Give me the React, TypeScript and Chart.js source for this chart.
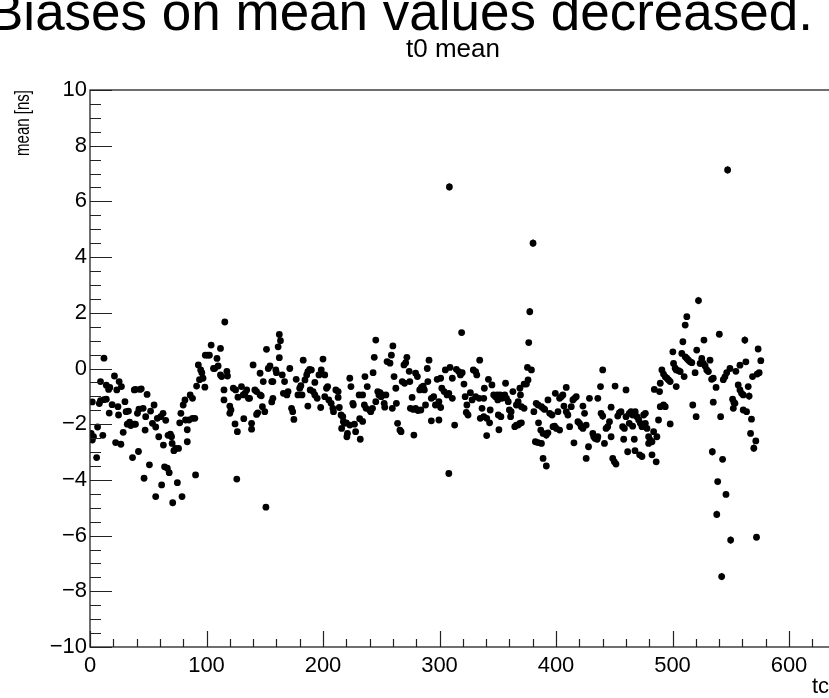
import { useEffect, useRef } from "react";
import { Chart, registerables } from "chart.js";

Chart.register(...registerables);

// ---- texts ----
const slideTitle = "Biases on mean values decreased.";
const chartTitle = "t0 mean";
const yAxisTitle = "mean [ns]";
const xAxisTitle = "tc";

// ---- axes ----
const xMin = 0;
const xMax = 640;
const yMin = -10;
const yMax = 10;
const xMajorTicks = [0, 100, 200, 300, 400, 500, 600];
const yMajorTicks = [-10, -8, -6, -4, -2, 0, 2, 4, 6, 8, 10];
const xMinorStep = 20;
const yMinorStep = 0.5;

// ---- data: [channel, mean (ns)] ----
const meanCh0to116: [number, number][] = [
  [1, -2.33], [2, -2.57], [3, -2.45], [5.7, -3.2], [6.5, -2.1], [2, -1.2], [8, -1.26], [9, -1.15], [12, -1.12], [14, -1.1],
  [9, -0.47], [12, 0.37], [11, -2.4], [14, -0.6], [16, -0.75], [17, -0.68], [16.5, -1.6], [19, -1.3], [21, -0.27], [22, -2.66],
  [23, -0.77], [24, -1.37], [24.5, -1.67], [25, -0.47], [26.5, -2.72], [27, -0.65], [28.5, -2.29], [30, -1.19], [31, -1.55], [33, -1.53],
  [32, -2.0], [34, -1.93], [35, -2.05], [38, -2.0], [39, -2.0], [36.5, -3.2], [38, -0.77], [39, -0.75], [40.7, -1.61], [41.6, -2.98],
  [42, -1.46], [43, -0.75], [44, -0.73], [45.6, -1.43], [46.4, -3.94], [47.3, -2.21], [47.8, -1.73], [49, -0.93], [51, -3.46], [52, -1.53],
  [53.6, -1.97], [55, -1.31], [56.4, -4.6], [56.4, -2.1], [57.8, -1.79], [59, -2.45], [60.7, -1.73], [61.5, -4.18], [62.7, -1.61], [63, -2.75],
  [64, -3.53], [65, -1.86], [66.4, -3.58], [67, -2.4], [69, -2.36], [70, -2.45], [68, -3.74], [70.5, -2.69], [71, -4.82], [72, -2.95],
  [73.5, -2.87], [75, -4.1], [76, -2.87], [77, -1.95], [78, -1.61], [79, -4.6], [80, -1.31], [81.5, -1.13], [82, -1.85], [83.5, -2.63],
  [83.5, -2.2], [85, -1.85], [86, -0.95], [88, -1.07], [88, -1.79], [90, -1.79], [90.6, -3.82], [91.5, -0.63], [93, 0.13], [94, -0.4],
  [95, -0.05], [96, -0.15], [97, -0.35], [98.6, -0.67], [99, 0.48], [101, 0.48], [102.5, 0.48], [104, 0.84], [106, 0], [107, 0],
  [109, 0.36], [110, 0.09], [112, 0.72], [112, -0.23], [113, -0.29], [115, -0.77], [115, -1.13], [115.7, 1.67],
];

const meanCh117to232: [number, number][] = [
  [117.5, -0.1], [118, -0.27], [120, -1.35], [121, -1.49], [120, -1.61], [123, -0.71], [125, -0.77], [124.5, -1.99], [126.5, -2.27], [126, -3.97],
  [127, -1.03], [130, -0.65], [131.5, -0.95], [133, -0.89], [134.5, -0.77], [136, -1.07], [137, -1.07], [132, -1.8], [138.7, -1.97], [138.7, -2.18],
  [140, 0.13], [141.5, -0.77], [143, -0.83], [146, -0.95], [147, -0.98], [143, -1.65], [144, -1.59], [146, -0.17], [148, -1.37], [148.7, -0.47],
  [150, -1.55], [151, -4.98], [151.5, 0.69], [153, 0], [154.5, 0.09], [156, -0.47], [157, -0.47], [156, -1.2], [157, -1.07], [159.5, -0.05],
  [160, -0.15], [161.5, 0.78], [162.5, 1.22], [163.5, 1.0], [162.5, 0.39], [165, -0.23], [167, -0.47], [166, -0.89], [169, -0.95], [170, -0.83],
  [171.5, 0], [173, -1.43], [174, -1.55], [175, -1.83], [177, -0.39], [178.5, -0.95], [180, -0.71], [181, -0.62], [182, -0.95], [183, 0.3],
  [184.5, -0.41], [186, -0.23], [187, -0.11], [188.5, -0.03], [190, -0.05], [187, -1.35], [189, -0.77], [191.5, -0.83], [193, -0.95], [193, -0.5],
  [195, -1.07], [196.5, -0.23], [198, -1.4], [198.5, -0.05], [200, 0.34], [201.5, -0.23], [201.5, -1.01], [203, -0.71], [204, -0.65], [205, -1.13],
  [207, -1.25], [208.5, -1.43], [209, -1.55], [211, -0.77], [213, -0.83], [213, -1.04], [214, -1.4], [215.5, -1.67], [217, -1.73], [217.5, -1.91],
  [220, -1.95], [221, -2.33], [220.5, -2.45], [216, -2.15], [218.5, -1.97], [223, -2.03], [223, -0.35], [224, -0.65], [225.6, -1.25], [226, -1.31],
  [227, -2.0], [228, -2.27], [231, -0.95], [231.5, -1.8], [232, -2.54],
];

const meanCh233to351: [number, number][] = [
  [234, -0.95], [234, -1.9], [235.5, -1.31], [237, -1.43], [236, -0.29], [238, -0.65], [240, -1.49], [241, -1.55], [242.5, -1.43], [243, -0.15],
  [244, 0.4], [245.3, 1.02], [245.3, -1.19], [247, -0.83], [248, -0.95], [249, -0.87], [250, -1.01], [251, -0.95], [252.5, -1.25], [253, -1.39],
  [254, -0.95], [255, 0.25], [257.5, 0.19], [258.7, 0.48], [260, 0.81], [259.5, -1.43], [261, -0.29], [262.5, -0.71], [263, -1.25], [264, -1.97],
  [266, -2.21], [267, -2.27], [268, -0.47], [270, -0.53], [269.5, 0.13], [271, 0.21], [272, 0.4], [274, -0.1], [274.5, -0.47], [275, -1.43],
  [277.5, -1.47], [279.5, -1.43], [281.5, -1.51], [284, -1.49], [276.5, -1.04], [278, -2.39], [279.5, -0.17], [281, -0.29], [283, -0.77], [284.5, -0.68],
  [286, -0.63], [287, -0.77], [288, -1.31], [289.5, 0], [290, -0.47], [291, 0.3], [293, -1.88], [293, -1.07], [295, -1.01], [296.5, -1.31],
  [298, -0.39], [301, -0.35], [299.5, -1.85], [299.5, -1.19], [301, -1.4], [302, -0.71], [304, -0.83], [305, -0.05], [306.5, -0.95], [308, -0.89],
  [308, -3.77], [308.5, 6.52], [309, 0.04], [311, -0.35], [311, -1.07], [313, -2.03], [314.5, -0.03], [316.5, -0.11], [318, -0.23], [319.5, -0.15],
  [319, 1.29], [321, -0.56], [322, -1.01], [323, -1.58], [324.5, -1.67], [323.5, -1.31], [326.5, -0.87], [328, -1.13], [329, -0.05], [331, -0.11],
  [332, -0.23], [331, -1.01], [334, -1.07], [334.5, 0.3], [335, -1.79], [338, -1.73], [340.5, -1.79], [336.5, -1.43], [338, -1.07], [338.5, -0.71],
  [340.5, -2.41], [342, -0.39], [343.5, -1.49], [345, -0.59], [346.5, -0.95], [343, -1.95], [348, -1.01], [349.5, -0.95], [350, -1.13], [350.5, -1.67],
  [351, -2.2],
];

const meanCh352to468: [number, number][] = [
  [352, -0.95], [353.5, -1.07], [352.7, -1.73], [354.7, -1.01], [356, -0.95], [357.5, -1.07], [359, -1.19], [356.7, -0.53], [360, -1.49], [361.5, -1.55],
  [361, -1.73], [363, -0.83], [364.6, -2.09], [366, -2.03], [367.5, -2.03], [369, -1.97], [370.3, -1.95], [366, -1.31], [367.5, -1.19], [369, -0.71],
  [369.5, -0.95], [370.3, -1.37], [372.6, -1.43], [372.6, -0.56], [374.6, -0.56], [375.5, 0.04], [378.9, -0.05], [376, -0.41], [376.6, 0.93], [377.5, 2.04],
  [380.3, 4.5], [381, -1.55], [383, -1.25], [384.6, -1.31], [387.5, -1.37], [389, -1.43], [390.3, -1.47], [382.3, -2.63], [384.6, -2.66], [387.5, -2.69],
  [385, -1.95], [386.9, -2.21], [388.9, -2.33], [391.7, -2.39], [393.1, -2.31], [388.9, -3.23], [391.7, -3.5], [393.1, -1.13], [394.6, -1.61], [396.6, -1.67],
  [397.4, -2.09], [398.8, -2.07], [400.3, -2.15], [403.1, -2.21], [399.4, -0.89], [401.7, -1.55], [403.1, -1.07], [404.5, -1.01], [405.9, -0.95], [406.8, -1.35],
  [408.8, -1.55], [410.2, -1.67], [408.8, -0.68], [411.7, -2.09], [413.1, -1.37], [414.5, -1.13], [415.9, -1.07], [417.4, -1.01], [415.4, -2.67], [418.8, -1.91],
  [420.2, -1.97], [421.6, -2.09], [423.1, -2.15], [425.9, -2.03], [423.1, -1.35], [424.5, -1.61], [425.9, -3.23], [427.9, -2.81], [428.7, -1.07], [431.6, -2.33],
  [432.4, -2.45], [433.6, -2.51], [435.3, -2.54], [435.9, -2.45], [435.9, -1.07], [438.2, -0.65], [438.7, -1.61], [440.1, -1.71], [440.1, -0.05], [441.6, -2.69],
  [443, -2.15], [444.4, -2.09], [445.9, -1.91], [447.3, -1.39], [448.7, -3.23], [450.1, -3.35], [451.5, -3.43], [447.3, -2.45], [450.7, -0.63], [453, -1.71],
  [454.4, -1.59], [455.8, -1.55], [457.2, -2.09], [458.7, -2.15], [458.1, -2.54], [460.1, -0.77], [460.1, -1.73], [462.9, -1.61], [464.4, -1.55], [465.8, -1.67],
  [461.5, -2.99], [462.9, -1.97], [465.8, -2.07], [467.2, -2.54], [467.8, -2.95],
];

const meanCh468to576: [number, number][] = [
  [468, -1.55], [469.5, -1.73], [471, -1.85], [472.4, -1.97], [473.8, -2.09], [476.7, -1.97], [478.1, -2.15], [475.2, -1.67], [476.7, -1.61], [471.8, -3.1],
  [473.8, -3.16], [479.5, -2.45], [480.9, -2.57], [479.5, -2.69], [482.4, -2.63], [486.6, -2.45], [482.4, -3.1], [486, -3.35], [483.8, -2.27], [488, -1.85],
  [489.5, -1.37], [492.3, -1.31], [493.8, -1.37], [484.4, -0.75], [488.9, -0.83], [489.5, -0.53], [490.9, -0.05], [492.3, -0.2], [493.8, -0.3], [495.2, -0.35],
  [496.6, -0.41], [498, -0.47], [498, -1.99], [500.3, 0.6], [500.9, 0.18], [502.3, 0.01], [503.2, -0.05], [505.2, -0.08], [506.6, -0.11], [503.2, -0.65],
  [508.9, 0.96], [508, 0.54], [510.9, 0.42], [512.3, 0.36], [513.7, 0.3], [515.1, 0.24], [516.6, 0.21], [510, -0.29], [510.9, 1.56], [512.3, 1.86],
  [517.4, -1.31], [519.4, -0.15], [520.3, -1.73], [520.8, 0.66], [522.3, 2.44], [523.7, 0.18], [525.1, 0.36], [526.5, 0.18], [528, 0.09], [527, 1.02],
  [529.4, -0.05], [530.8, -0.11], [532.2, 0.3], [533.6, -0.39], [535, -0.35], [534.2, -2.99], [535, -1.21], [537.4, -0.68], [538.8, -4.06], [538, -5.24],
  [540.2, 1.23], [541.3, -1.73], [542.2, -7.47], [543, -3.26], [543.6, -0.4], [545, -0.3], [546.5, -0.15], [545.9, -4.52], [547.3, 7.13], [549.3, 0],
  [549.9, -6.16], [551.6, -1.1], [552.7, -1.22], [552.2, -1.43], [553.6, -1.25], [554.4, -0.1], [556.4, -0.59], [557.9, -0.77], [559.3, -0.89], [560.7, -0.95],
  [557.9, 0.12], [560.7, -1.49], [563.6, -1.55], [562.1, 1.02], [563, 0.24], [565, -0.65], [565.8, -0.99], [567.8, -1.82], [567, -2.33], [568.7, -0.29],
  [569.8, -2.86], [571.5, -2.6], [572.1, -6.06], [573.5, 0.7], [574.4, -0.15], [572.7, -0.2], [575.8, 0.28],
];

// channels whose (larger) error bars are visible, and the half-length of those bars (ns)
const errorBarChannels = [308.5, 380.3, 377.5, 440.1, 547.3, 542.2, 549.9, 522.3, 562.1, 534.2, 569.8, 538, 391.7, 565.8];
const errorBarHalf = 0.13;

const allMeans = [
  ...meanCh0to116,
  ...meanCh117to232,
  ...meanCh233to351,
  ...meanCh352to468,
  ...meanCh468to576,
];

const FONT = "'Liberation Sans', Arial, Helvetica, sans-serif";

const fmt = (v: number) => (v < 0 ? "\u2212" + Math.abs(v) : String(v));

const rootFramePlugin = {
  id: "rootFrame",
  afterDatasetsDraw(chart: any) {
    const { ctx, chartArea } = chart;
    const xs = chart.scales.x;
    const ys = chart.scales.y;
    const { left, right, top, bottom } = chartArea;
    ctx.save();
    // error bars
    ctx.strokeStyle = "#000";
    ctx.lineWidth = 1.5;
    const pts = chart.data.datasets[0].data as { x: number; y: number }[];
    for (const ch of errorBarChannels) {
      const p = pts.find((d) => d.x === ch);
      if (!p) continue;
      const px = xs.getPixelForValue(p.x);
      ctx.beginPath();
      ctx.moveTo(px, ys.getPixelForValue(p.y - errorBarHalf));
      ctx.lineTo(px, ys.getPixelForValue(p.y + errorBarHalf));
      ctx.stroke();
    }
    // frame
    ctx.strokeStyle = "#222";
    ctx.lineWidth = 1.3;
    ctx.strokeRect(left, top, right - left, bottom - top);
    // x ticks (inside, upward)
    ctx.lineWidth = 1.2;
    ctx.beginPath();
    for (let v = xMin; v <= xMax + 1e-9; v += xMinorStep) {
      const px = Math.round(xs.getPixelForValue(v)) + 0.5;
      const major = xMajorTicks.includes(v);
      const len = major ? 16 : 8;
      ctx.moveTo(px, bottom);
      ctx.lineTo(px, bottom - len);
    }
    // y ticks (inside, rightward)
    for (let v = yMin; v <= yMax + 1e-9; v += yMinorStep) {
      const py = Math.round(ys.getPixelForValue(v)) + 0.5;
      const major = yMajorTicks.includes(Math.round(v * 100) / 100);
      const len = major ? 22 : 11;
      ctx.moveTo(left, py);
      ctx.lineTo(left + len, py);
    }
    ctx.stroke();

    ctx.fillStyle = "#000";
    ctx.textBaseline = "alphabetic";
    // chart title
    ctx.font = `26px ${FONT}`;
    ctx.textAlign = "center";
    ctx.fillText(chartTitle, 453, 57);
    // x axis title (right end, partly outside the visible page)
    ctx.font = `22px ${FONT}`;
    ctx.textAlign = "left";
    ctx.fillText(xAxisTitle, 812, 693);
    // y axis title, rotated, ending at the top of the frame
    ctx.font = `21px ${FONT}`;
    const natural = ctx.measureText(yAxisTitle).width;
    const squeeze = Math.min(1, 66 / natural);
    ctx.translate(29, top);
    ctx.rotate(-Math.PI / 2);
    ctx.scale(squeeze, 1);
    ctx.textAlign = "right";
    ctx.fillText(yAxisTitle, 0, 0);
    ctx.restore();
  },
};

export default function App() {
  const canvasRef = useRef<HTMLCanvasElement | null>(null);

  useEffect(() => {
    const canvas = canvasRef.current;
    if (!canvas) return;
    const chart = new Chart(canvas, {
      type: "scatter",
      data: {
        datasets: [
          {
            label: chartTitle,
            data: allMeans.map(([x, y]) => ({ x, y })),
            backgroundColor: "#000",
            borderWidth: 0,
            pointRadius: 3.4,
            pointHoverRadius: 3.4,
          },
        ],
      },
      options: {
        animation: false,
        responsive: false,
        devicePixelRatio: 1,
        layout: { padding: { top: 90, left: 0, right: 0, bottom: 0 } },
        plugins: {
          legend: { display: false },
          tooltip: { enabled: false },
          title: { display: false },
        },
        scales: {
          x: {
            type: "linear",
            min: xMin,
            max: xMax,
            grid: { display: false, drawTicks: false },
            border: { display: false },
            afterBuildTicks: (s: any) => {
              s.ticks = xMajorTicks.map((v) => ({ value: v }));
            },
            afterFit: (s: any) => {
              s.height = 51;
            },
            ticks: {
              color: "#000",
              font: { family: FONT, size: 22 },
              padding: 6,
              maxRotation: 0,
              autoSkip: false,
              callback: (v: any) => fmt(Number(v)),
            },
          },
          y: {
            type: "linear",
            min: yMin,
            max: yMax,
            grid: { display: false, drawTicks: false },
            border: { display: false },
            afterBuildTicks: (s: any) => {
              s.ticks = yMajorTicks.map((v) => ({ value: v }));
            },
            afterFit: (s: any) => {
              s.width = 90;
            },
            ticks: {
              color: "#000",
              font: { family: FONT, size: 22 },
              padding: 3,
              autoSkip: false,
              callback: (v: any) => fmt(Number(v)),
            },
          },
        },
      },
      plugins: [rootFramePlugin],
    });
    return () => chart.destroy();
  }, []);

  return (
    <div
      style={{
        position: "fixed",
        left: 0,
        top: 0,
        width: 829,
        height: 698,
        overflow: "hidden",
        background: "#fff",
      }}
    >
      <canvas
        ref={canvasRef}
        width={839}
        height={698}
        style={{ position: "absolute", left: 0, top: 0, width: 839, height: 698 }}
      />
      <div
        style={{
          position: "absolute",
          left: -12,
          top: -15,
          fontFamily: FONT,
          fontSize: 53,
          lineHeight: 1,
          whiteSpace: "nowrap",
          color: "#000",
        }}
      >
        {slideTitle}
      </div>
    </div>
  );
}
